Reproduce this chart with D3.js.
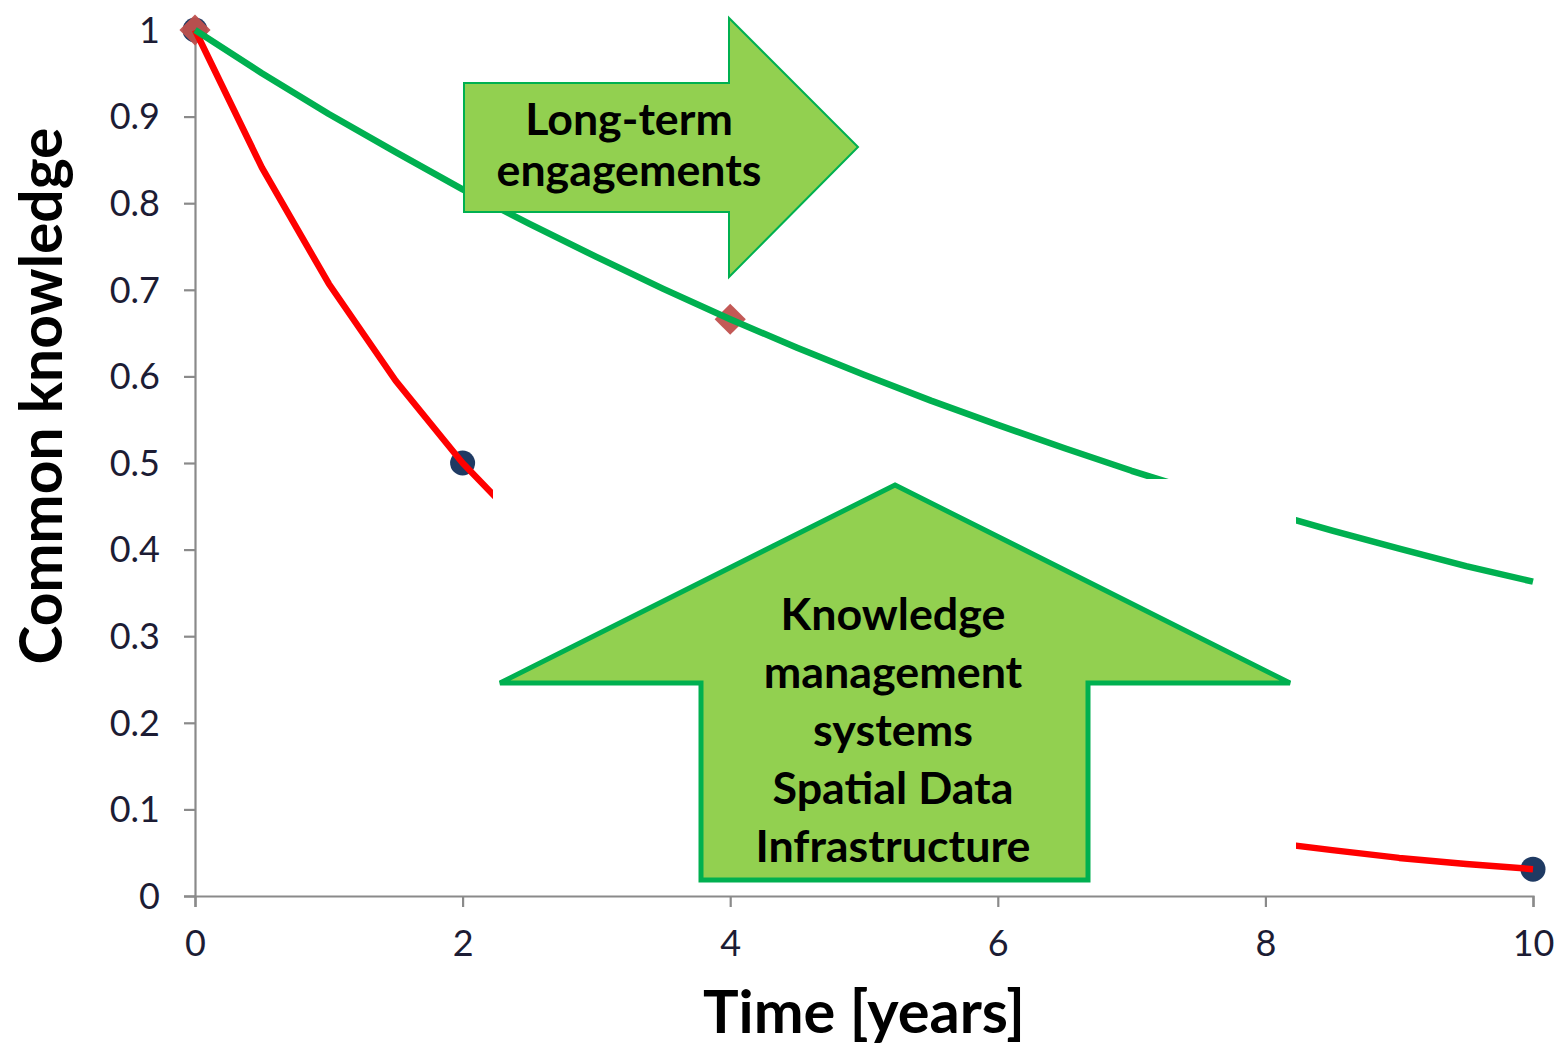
<!DOCTYPE html>
<html>
<head>
<meta charset="utf-8">
<script src="https://cdn.jsdelivr.net/npm/d3@7"></script>
<style>
  html, body { margin: 0; padding: 0; background: #ffffff; }
  svg { display: block; }
</style>
</head>
<body>
<svg id="chart" width="1556" height="1045"></svg>
<script>
// ---- data ----
const years = [0, 0.5, 1, 1.5, 2, 2.5, 3, 3.5, 4, 4.5, 5, 5.5, 6, 6.5, 7, 7.5, 8, 8.5, 9, 9.5, 10];
const shortTerm = [1, 0.841, 0.707, 0.595, 0.5, 0.42, 0.354, 0.297, 0.25, 0.21, 0.177, 0.149, 0.125, 0.105, 0.088, 0.074, 0.0625, 0.053, 0.044, 0.037, 0.031];
const longTerm = [1, 0.95, 0.903, 0.859, 0.816, 0.776, 0.738, 0.701, 0.666, 0.633, 0.602, 0.572, 0.544, 0.517, 0.491, 0.467, 0.444, 0.422, 0.401, 0.381, 0.363];
const circleYears = [0, 2, 4, 6, 8, 10];
const diamondYears = [0, 4, 8];
const xTicks = [0, 2, 4, 6, 8, 10];
const xTickLabels = ["0", "2", "4", "6", "8", "10"];
const yTicks = [0, 0.1, 0.2, 0.3, 0.4, 0.5, 0.6, 0.7, 0.8, 0.9, 1];
const yTickLabels = ["0", "0.1", "0.2", "0.3", "0.4", "0.5", "0.6", "0.7", "0.8", "0.9", "1"];
const xTitle = "Time [years]";
const yTitle = "Common knowledge";
const rightArrowText = ["Long-term", "engagements"];
const upArrowText = ["Knowledge", "management", "systems", "Spatial Data", "Infrastructure"];

// ---- layout ----
const svg = d3.select("#chart");
const x = d3.scaleLinear().domain([0, 10]).range([195, 1533]);
const y = d3.scaleLinear().domain([0, 1]).range([896, 30]);
const FONT = "Lato, 'Open Sans', sans-serif";
const axisColor = "#8a8a8a";

function fitWidth(sel, target) {
  const w = sel.node().getComputedTextLength();
  const fs = parseFloat(sel.attr("font-size"));
  sel.attr("font-size", fs * target / w);
}

// axes
const yAxis = d3.axisLeft(y).tickValues(yTicks).tickSize(11).tickPadding(24)
  .tickFormat((d, i) => yTickLabels[i]);
const xAxis = d3.axisBottom(x).tickValues(xTicks).tickSize(11).tickPadding(23)
  .tickFormat((d, i) => xTickLabels[i]);

const gy = svg.append("g").attr("transform", `translate(${x(0)},0)`).call(yAxis);
const gx = svg.append("g").attr("transform", `translate(0,${y(0)})`).call(xAxis);
[gx, gy].forEach(g => {
  g.select(".domain").attr("stroke", axisColor).attr("stroke-width", 2.2);
  g.selectAll(".tick line").attr("stroke", axisColor).attr("stroke-width", 2.2);
  g.selectAll(".tick text").attr("font-family", FONT).attr("font-size", 36)
    .attr("fill", "#1c1c34");
});
gy.selectAll(".tick text").attr("dy", "0.34em");
gx.selectAll(".tick text").attr("dy", "0.71em");
// no tick mark at the top (hidden under marker)
gy.selectAll(".tick").filter(d => d === 1).select("line").remove();

// markers first (lines drawn over them)
const mk = svg.append("g");
mk.selectAll("circle").data(circleYears).join("circle")
  .attr("cx", d => x(d))
  .attr("cy", d => y(shortTerm[years.indexOf(d)]))
  .attr("r", 12.5)
  .attr("fill", "#1f3a63");
mk.selectAll("path.dia").data(diamondYears).join("path").attr("class", "dia")
  .attr("d", d3.symbol().type(d3.symbolDiamond2).size(620))
  .attr("transform", d => `translate(${x(d)},${y(longTerm[years.indexOf(d)])})`)
  .attr("fill", "#c0504d").attr("opacity", 0.95);

// lines
const line = d3.line().x((d, i) => x(years[i])).y(d => y(d));
svg.append("path").datum(shortTerm).attr("d", line)
  .attr("fill", "none").attr("stroke", "#ff0000").attr("stroke-width", 6.5)
  .attr("stroke-linejoin", "round");
svg.append("path").datum(longTerm).attr("d", line)
  .attr("fill", "none").attr("stroke", "#00b050").attr("stroke-width", 6.5)
  .attr("stroke-linejoin", "round");

// white panel behind the up arrow
svg.append("rect").attr("x", 493).attr("y", 479).attr("width", 803).attr("height", 406)
  .attr("fill", "#ffffff");

// up arrow
svg.append("path")
  .attr("d", "M895,485 L1290,683 L1088,683 L1088,880 L701,880 L701,683 L500,683 Z")
  .attr("fill", "#92d050").attr("stroke", "#00b050").attr("stroke-width", 5)
  .attr("stroke-linejoin", "miter");

// right arrow
svg.append("path")
  .attr("d", "M464,83 L729,83 L729,18 L858,147 L729,277 L729,212 L464,212 Z")
  .attr("fill", "#92d050").attr("stroke", "#00b050").attr("stroke-width", 2)
  .attr("stroke-linejoin", "miter");

// arrow texts
const rt = svg.append("g");
const rtBase = [135, 186];
rightArrowText.forEach((t, i) => {
  rt.append("text").text(t).attr("x", 629).attr("y", rtBase[i])
    .attr("text-anchor", "middle").attr("font-family", FONT).attr("font-weight", 700)
    .attr("font-size", 44).attr("fill", "#000");
});
{
  const s = rt.selectAll("text").filter((d, i) => i === 1);
  const w = s.node().getComputedTextLength();
  rt.selectAll("text").attr("font-size", 44 * 265 / w);
}

const ut = svg.append("g");
const utBase = [630, 688, 746, 804, 862];
upArrowText.forEach((t, i) => {
  ut.append("text").text(t).attr("x", 893).attr("y", utBase[i])
    .attr("text-anchor", "middle").attr("font-family", FONT).attr("font-weight", 700)
    .attr("font-size", 44).attr("fill", "#000");
});
{
  const s = ut.selectAll("text").filter((d, i) => i === 4);
  const w = s.node().getComputedTextLength();
  ut.selectAll("text").attr("font-size", 44 * 275 / w);
}

// axis titles
const xt = svg.append("text").text(xTitle).attr("x", 864).attr("y", 1033)
  .attr("text-anchor", "middle").attr("font-family", FONT).attr("font-weight", 700)
  .attr("font-size", 60).attr("fill", "#000");
fitWidth(xt, 322);

const yt = svg.append("text").text(yTitle)
  .attr("transform", "translate(62,396) rotate(-90)")
  .attr("text-anchor", "middle").attr("font-family", FONT).attr("font-weight", 700)
  .attr("font-size", 60).attr("fill", "#000");
fitWidth(yt, 537);
</script>
</body>
</html>
